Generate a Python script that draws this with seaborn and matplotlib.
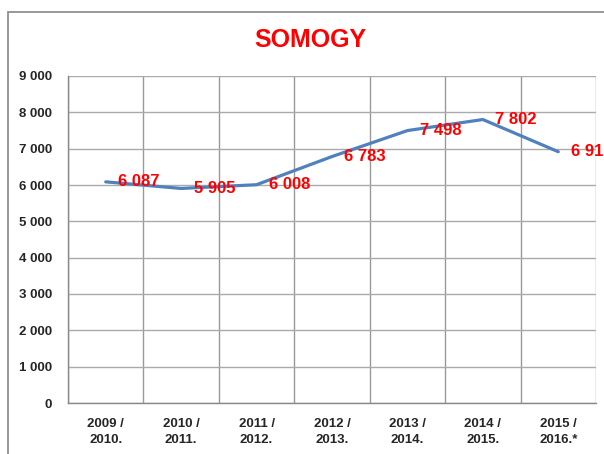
import seaborn as sns
import matplotlib.pyplot as plt
import matplotlib.patches as mpatches
from matplotlib.ticker import FixedLocator, FuncFormatter

# school years and student counts (Somogy county)
seasons = ["2009 /\n2010.", "2010 /\n2011.", "2011 /\n2012.", "2012 /\n2013.",
           "2013 /\n2014.", "2014 /\n2015.", "2015 /\n2016.*"]
students = [6087, 5905, 6008, 6783, 7498, 7802, 6916]
y_ticks = [0, 1000, 2000, 3000, 4000, 5000, 6000, 7000, 8000, 9000]

sns.set_style("white")
plt.rcParams['font.family'] = ['Liberation Sans Narrow', 'Liberation Sans', 'DejaVu Sans']


def fmt(v):
    return f"{int(v):,}".replace(",", " ")


fig = plt.figure(figsize=(6.04, 4.54), dpi=100)
ax = fig.add_axes([68/604, 1 - 403/454, 528/604, 327/454])

x = list(range(len(seasons)))
sns.lineplot(x=x, y=students, ax=ax, color="#4F81BD", linewidth=2.3)

ax.set_xlim(-0.5, len(seasons) - 0.5)
ax.set_ylim(0, 9000)

# categories sit between the tick marks, as in the spreadsheet chart
ax.xaxis.set_major_locator(FixedLocator(x))
ax.set_xticklabels(seasons, fontsize=9.5, fontweight="bold", linespacing=1.5)
ax.xaxis.set_minor_locator(FixedLocator([i - 0.5 for i in range(len(seasons) + 1)]))
ax.tick_params(axis="x", which="major", length=0, pad=10.5)
ax.tick_params(axis="x", which="minor", length=5, color="#888888", width=1)
ax.grid(axis="x", which="minor", color="#999999", linewidth=1)

ax.yaxis.set_major_locator(FixedLocator(y_ticks))
ax.yaxis.set_major_formatter(FuncFormatter(lambda v, p: fmt(v)))
ax.tick_params(axis="y", length=5, color="#888888", width=1, pad=6.5)
for lab in ax.get_yticklabels():
    lab.set_fontsize(9.5)
    lab.set_fontweight("bold")
ax.grid(axis="y", which="major", color="#aaaaaa", linewidth=1)
ax.set_axisbelow(True)

for side in ["top", "right"]:
    ax.spines[side].set_visible(False)
for side in ["left", "bottom"]:
    ax.spines[side].set_color("#888888")
    ax.spines[side].set_linewidth(1)

for i, v in zip(x, students):
    ax.annotate(fmt(v), (i, v), xytext=(9, 0), textcoords="offset points",
                ha="left", va="center", color="red", fontsize=12,
                fontweight="bold", annotation_clip=False)

ax.set_xlabel("")
ax.set_ylabel("")

fig.text(310/604, 1 - 40/454, "SOMOGY", ha="center", va="center",
         color="red", fontsize=18, fontweight="bold")

# outer chart frame, cut off at right and bottom
fig.patches.append(mpatches.Rectangle((8/604, -0.1), 1.2, (1 - 12/454) + 0.1,
                                      transform=fig.transFigure, fill=False,
                                      edgecolor="#888888", linewidth=1.2))

fig.savefig("out.png", dpi=100)
